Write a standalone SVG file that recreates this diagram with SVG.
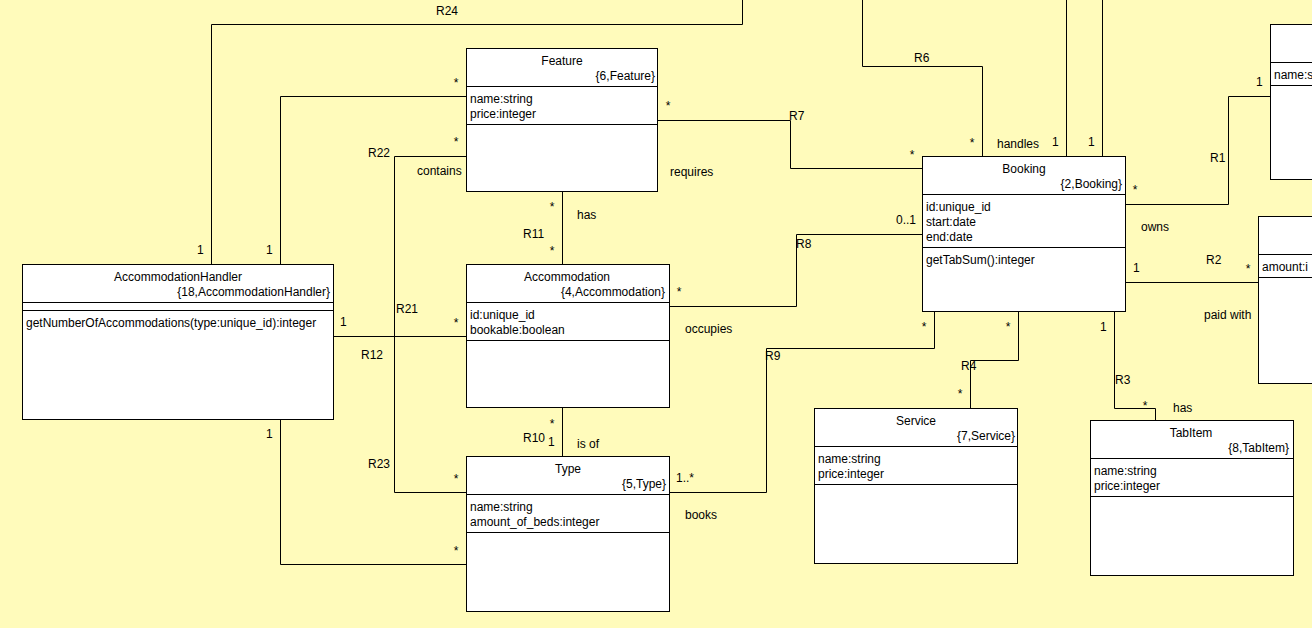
<svg xmlns="http://www.w3.org/2000/svg" width="1312" height="628" viewBox="0 0 1312 628">
  <style>
    text { font-family: "Liberation Sans", Arial, sans-serif; font-size: 12px; fill: #000; }
    .box { fill: #fff; stroke: #000; stroke-width: 1; }
    .div { stroke: #000; stroke-width: 1; fill: none; }
    .title { text-anchor: middle; }
    .key { text-anchor: end; }
    .star { text-anchor: middle; }
    #connectors path { fill: none; stroke: #000; stroke-width: 1; }
  </style>
  <rect x="0" y="0" width="1312" height="628" fill="#FFFBBB"/>

  <!-- associations -->
  <g id="connectors">
    <path d="M211.5,264 V24.5 H742.5 V0"/>
    <path d="M280.5,264 V96.5 H466"/>
    <path d="M466,156.5 H394.5 V492.5 H466"/>
    <path d="M333,336.5 H466"/>
    <path d="M280.5,420 V564.5 H466"/>
    <path d="M562.5,192 V264"/>
    <path d="M562.5,408 V456"/>
    <path d="M658,120.5 H790.5 V168.5 H922"/>
    <path d="M670,306.5 H796.5 V234.5 H922"/>
    <path d="M670,492.5 H766.5 V348.5 H934.5 V312"/>
    <path d="M1018.5,312 V360.5 H970.5 V408"/>
    <path d="M1114.5,312 V408.5 H1155.5 V420"/>
    <path d="M1126,204.5 H1228.5 V96.5 H1270"/>
    <path d="M1126,282.5 H1258"/>
    <path d="M982.5,156 V66.5 H862.5 V0"/>
    <path d="M1066.5,156 V0"/>
    <path d="M1102.5,156 V0"/>
  </g>

  <!-- association labels -->
  <g id="labels">
    <text x="436" y="15">R24</text>
    <text x="197" y="254">1</text>
    <text x="266" y="254">1</text>
    <text class="star" x="456" y="87">*</text>
    <text x="368" y="157">R22</text>
    <text class="star" x="456" y="146">*</text>
    <text x="417" y="175">contains</text>
    <text x="396" y="313">R21</text>
    <text x="340" y="326">1</text>
    <text class="star" x="456" y="327">*</text>
    <text x="361" y="359">R12</text>
    <text x="266" y="438">1</text>
    <text x="368" y="468">R23</text>
    <text class="star" x="456" y="483">*</text>
    <text class="star" x="456" y="555">*</text>

    <text class="star" x="552" y="211">*</text>
    <text x="577" y="219">has</text>
    <text x="523" y="238">R11</text>
    <text class="star" x="552" y="255">*</text>

    <text class="star" x="552" y="428">*</text>
    <text x="523" y="442">R10</text>
    <text x="548" y="446">1</text>
    <text x="577" y="448">is of</text>

    <text class="star" x="668" y="110">*</text>
    <text x="789" y="120">R7</text>
    <text class="star" x="912" y="159">*</text>
    <text x="670" y="176">requires</text>

    <text x="896" y="224">0..1</text>
    <text x="796" y="248">R8</text>
    <text class="star" x="679" y="296">*</text>
    <text x="685" y="333">occupies</text>

    <text class="star" x="924" y="331">*</text>
    <text x="765" y="360">R9</text>
    <text x="676" y="482">1..*</text>
    <text x="685" y="519">books</text>

    <text class="star" x="1008" y="331">*</text>
    <text x="961" y="370">R4</text>
    <text class="star" x="960" y="398">*</text>

    <text x="1100" y="331">1</text>
    <text x="1115" y="384">R3</text>
    <text class="star" x="1145" y="410">*</text>
    <text x="1173" y="412">has</text>

    <text x="914" y="62">R6</text>
    <text class="star" x="972" y="147">*</text>
    <text x="997" y="148">handles</text>
    <text x="1052" y="146">1</text>
    <text x="1088" y="146">1</text>

    <text class="star" x="1135" y="194">*</text>
    <text x="1210" y="162">R1</text>
    <text x="1256" y="86">1</text>
    <text x="1141" y="231">owns</text>

    <text x="1133" y="272">1</text>
    <text x="1206" y="264">R2</text>
    <text class="star" x="1248" y="273">*</text>
    <text x="1204" y="319">paid with</text>
  </g>

  <!-- classes -->
  <g id="feature">
    <rect class="box" x="466.5" y="48.5" width="191" height="143"/>
    <path class="div" d="M466.5,86.5 H657.5 M466.5,124.5 H657.5"/>
    <text class="title" x="562" y="65">Feature</text>
    <text class="key" x="655" y="80">{6,Feature}</text>
    <text x="470" y="103">name:string</text>
    <text x="470" y="118">price:integer</text>
  </g>

  <g id="booking">
    <rect class="box" x="922.5" y="156.5" width="203" height="155"/>
    <path class="div" d="M922.5,194.5 H1125.5 M922.5,247.5 H1125.5"/>
    <text class="title" x="1024" y="173">Booking</text>
    <text class="key" x="1122" y="188">{2,Booking}</text>
    <text x="926" y="211">id:unique_id</text>
    <text x="926" y="226">start:date</text>
    <text x="926" y="241">end:date</text>
    <text x="926" y="264">getTabSum():integer</text>
  </g>

  <g id="accommodation-handler">
    <rect class="box" x="22.5" y="264.5" width="311" height="155"/>
    <path class="div" d="M22.5,302.5 H333.5 M22.5,310.5 H333.5"/>
    <text class="title" x="178" y="281">AccommodationHandler</text>
    <text class="key" x="330" y="296">{18,AccommodationHandler}</text>
    <text x="26" y="327">getNumberOfAccommodations(type:unique_id):integer</text>
  </g>

  <g id="accommodation">
    <rect class="box" x="466.5" y="264.5" width="203" height="143"/>
    <path class="div" d="M466.5,302.5 H669.5 M466.5,340.5 H669.5"/>
    <text class="title" x="567" y="281">Accommodation</text>
    <text class="key" x="665" y="296">{4,Accommodation}</text>
    <text x="470" y="319">id:unique_id</text>
    <text x="470" y="334">bookable:boolean</text>
  </g>

  <g id="type">
    <rect class="box" x="466.5" y="456.5" width="203" height="155"/>
    <path class="div" d="M466.5,494.5 H669.5 M466.5,532.5 H669.5"/>
    <text class="title" x="568" y="473">Type</text>
    <text class="key" x="666" y="488">{5,Type}</text>
    <text x="470" y="511">name:string</text>
    <text x="470" y="526">amount_of_beds:integer</text>
  </g>

  <g id="service">
    <rect class="box" x="814.5" y="408.5" width="203" height="155"/>
    <path class="div" d="M814.5,446.5 H1017.5 M814.5,484.5 H1017.5"/>
    <text class="title" x="916" y="425">Service</text>
    <text class="key" x="1015" y="440">{7,Service}</text>
    <text x="818" y="463">name:string</text>
    <text x="818" y="478">price:integer</text>
  </g>

  <g id="tab-item">
    <rect class="box" x="1090.5" y="420.5" width="203" height="155"/>
    <path class="div" d="M1090.5,458.5 H1293.5 M1090.5,496.5 H1293.5"/>
    <text class="title" x="1191" y="437">TabItem</text>
    <text class="key" x="1289" y="452">{8,TabItem}</text>
    <text x="1094" y="475">name:string</text>
    <text x="1094" y="490">price:integer</text>
  </g>

  <!-- classes that run past the right edge of the sheet; only the visible start of each attribute is printed -->
  <g id="customer">
    <rect class="box" x="1270.5" y="24.5" width="60" height="155"/>
    <path class="div" d="M1270.5,62.5 H1330 M1270.5,85.5 H1330"/>
    <text x="1274" y="79">name:s</text>
  </g>

  <g id="payment">
    <rect class="box" x="1258.5" y="216.5" width="60" height="167"/>
    <path class="div" d="M1258.5,254.5 H1320 M1258.5,277.5 H1320"/>
    <text x="1262" y="271">amount:i</text>
  </g>
</svg>
